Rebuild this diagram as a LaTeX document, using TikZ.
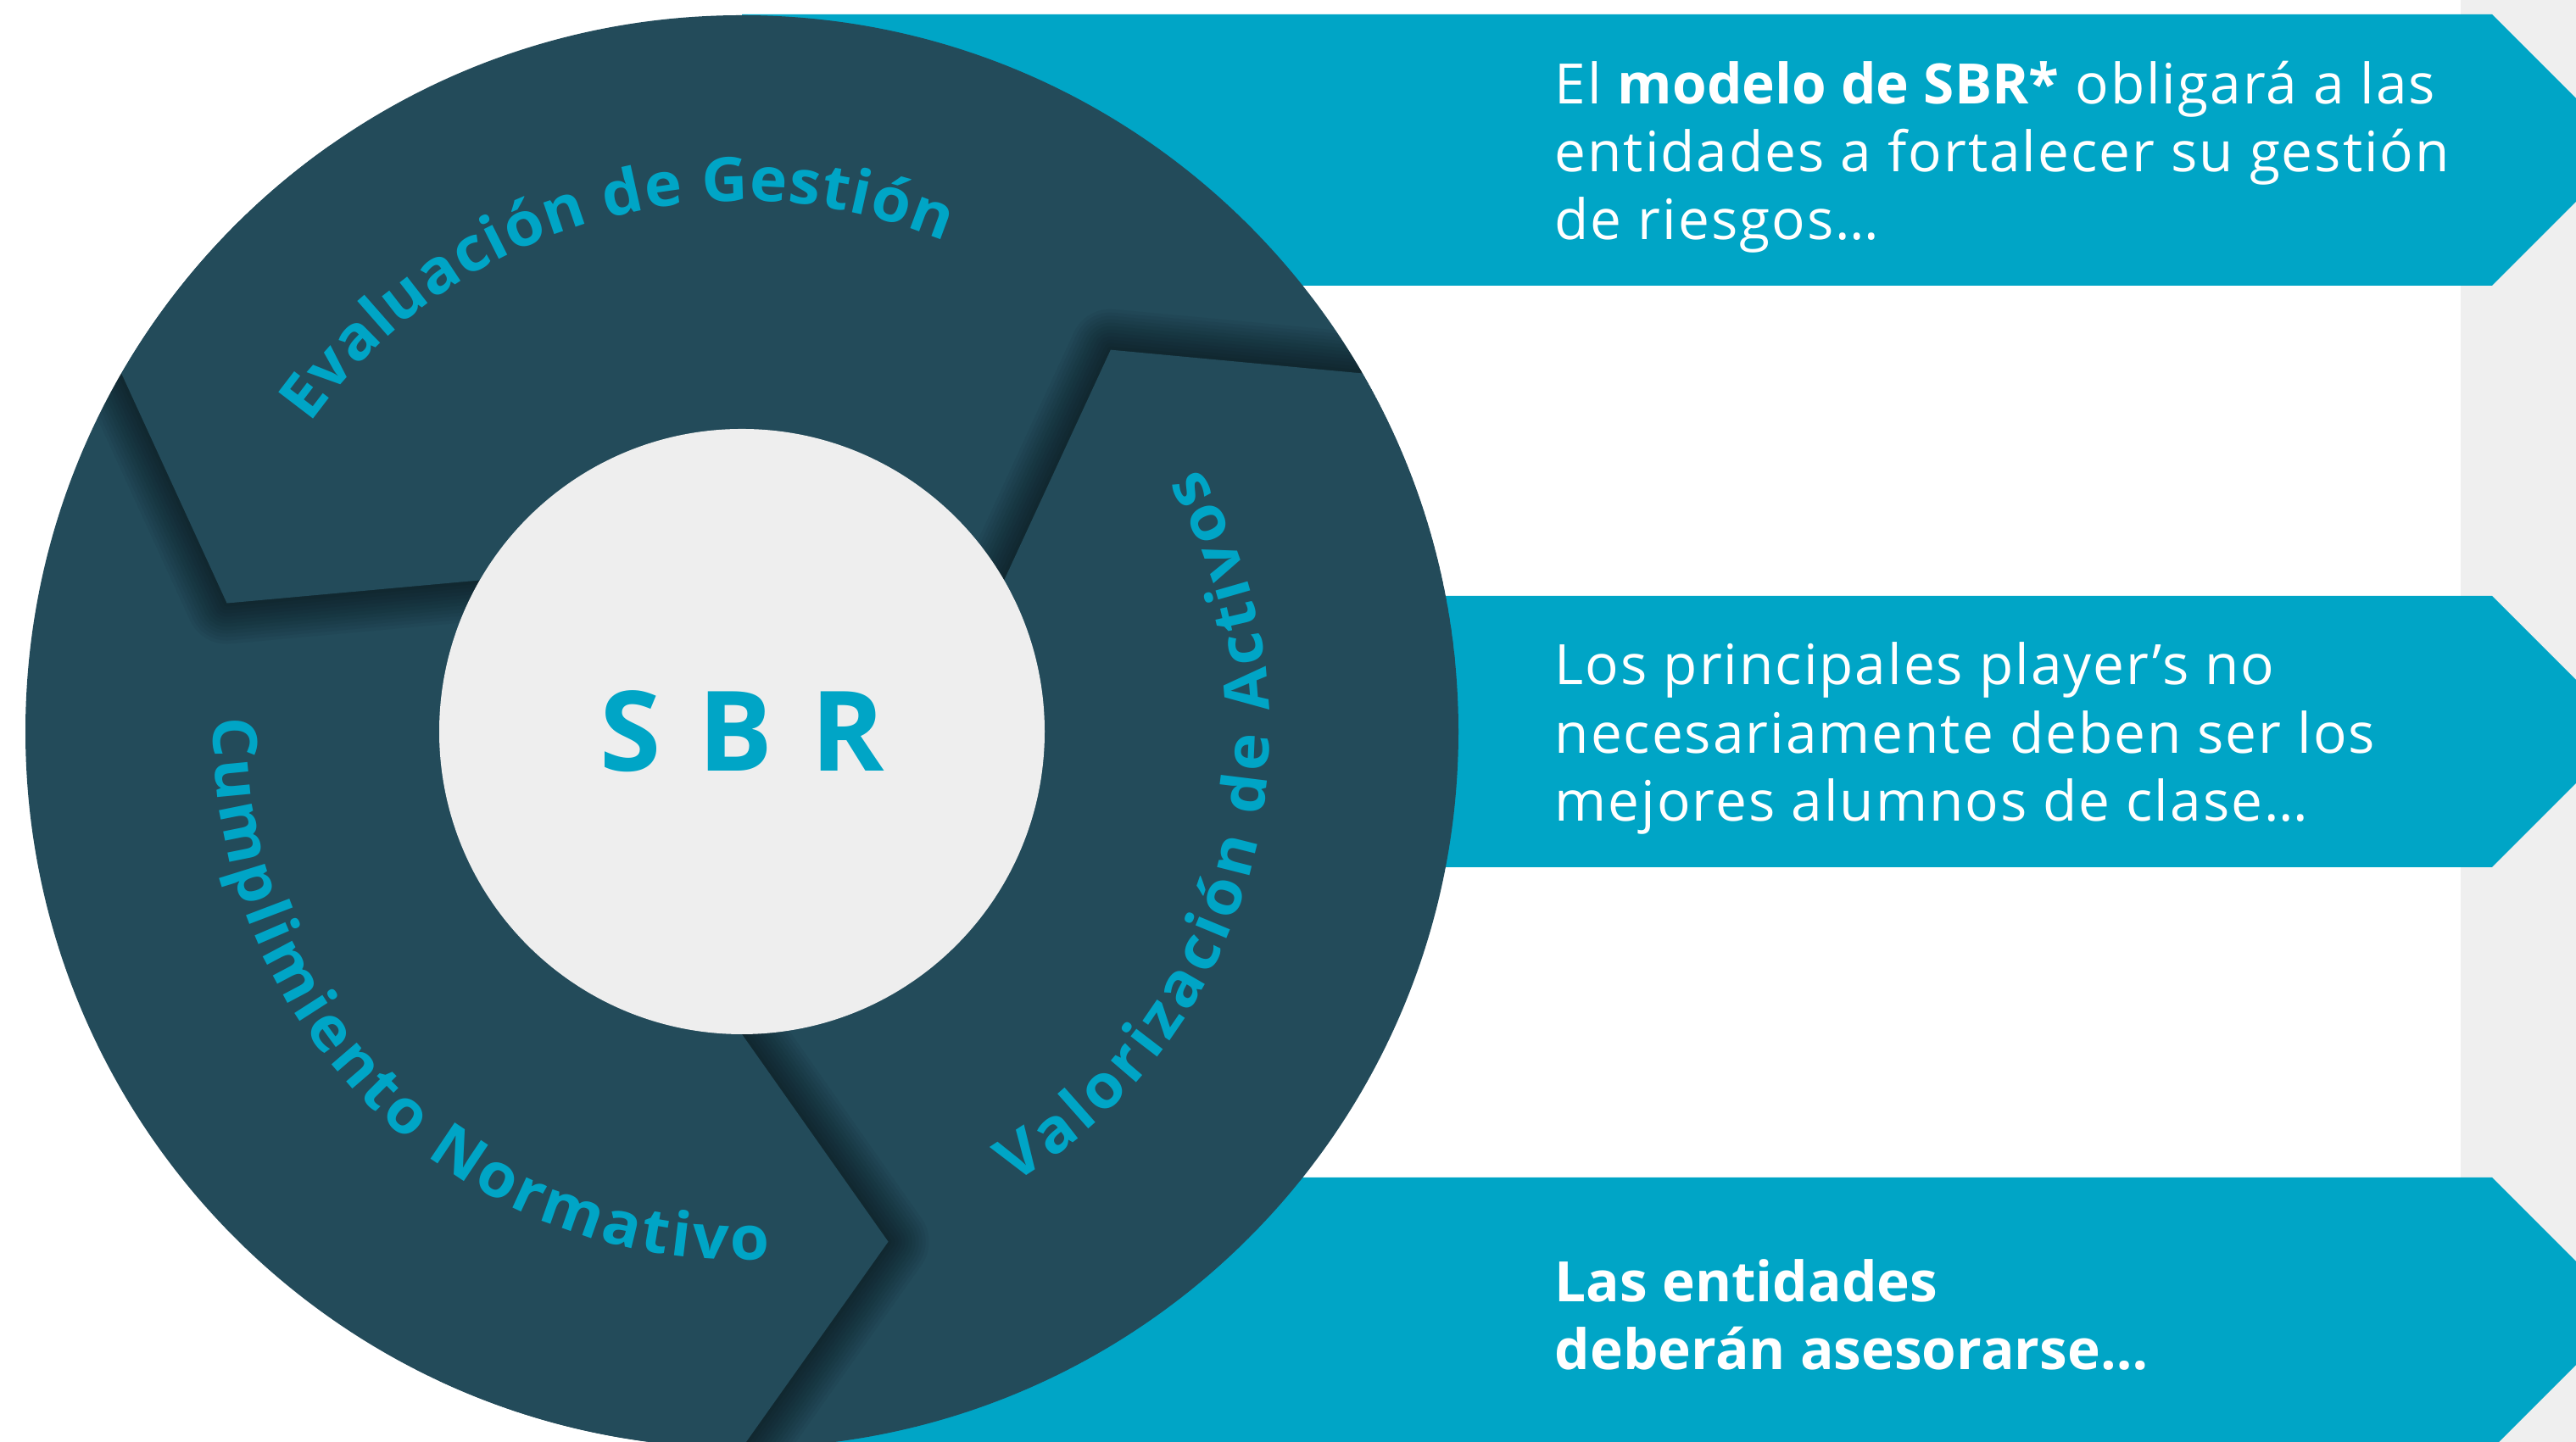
\documentclass[tikz,border=0pt]{standalone}
\usepackage{fontspec}
\setmainfont{Open Sans}
\newfontfamily\bannerfont{Open Sans}[LetterSpace=3]
\newfontfamily\ringfont{Open Sans}[FakeStretch=1.04]
\newfontfamily\boldfont{Open Sans}
\usetikzlibrary{decorations.text}

\definecolor{sbrdark}{RGB}{35,75,90}
\definecolor{sbrcyan}{RGB}{0,165,198}
\definecolor{sbrgrey}{RGB}{238,238,238}
\definecolor{stripgrey}{RGB}{239,239,239}

\begin{document}
\begin{tikzpicture}
    [
  banner/.style={
    fill=sbrcyan
  },
  ringtext/.style={
    decorate,
    decoration={
      text along path,
      text={|\ringfont\bfseries\fontsize{20.5}{21}\selectfont|#1},
      text color=sbrcyan,
      text align={fit to path}
    }
  },
  infotext/.style={
    anchor=west,
    align=left,
    text=white,
    inner sep=0pt,
    font=\bannerfont\fontsize{18.7}{22.8}\selectfont
  }
  ]
  \useasboundingbox (0,0) rectangle (30.38,17.01);
  \clip (0,0) rectangle (30.38,17.01);
  \fill[stripgrey] (29.02,0) rectangle (30.38,17.01);

  % banners
  \foreach \y in {15.24,8.38,1.52}
    \fill[banner] (8.75,\y+1.6) -- (29.39,\y+1.6) -- (30.99,\y)
      -- (29.39,\y-1.6) -- (8.75,\y-1.6) -- cycle;

  \begin{scope}[shift={(8.75,8.38)}]
    \fill[sbrdark] (0,0) circle (8.45);
    % folds
    \foreach \b in {150,30,-90} {
      \begin{scope}
        \clip (0,0) circle (8.45);
        \foreach \i in {1,...,12}
          \draw[line width=\i*0.08cm, black, opacity=0.045, line join=round]
            (\b:8.45) -- (\b+16:6.26) -- (\b:3.57);
        \fill[sbrdark] (\b-25:8.45) arc[start angle=\b-25, end angle=\b, radius=8.45]
          -- (\b+16:6.26) -- (\b:3.57)
          arc[start angle=\b, end angle=\b-25, radius=3.57] -- cycle;
      \end{scope}
    }
    \path[ringtext={Evaluación de Gestión}]
      (144.5:6.26) arc[start angle=144.5, end angle=67.5, radius=6.26];
    \path[ringtext={Valorización de Activos}]
      (-59:6.22) arc[start angle=-59, end angle=30, radius=6.22];
    \path[ringtext={Cumplimiento Normativo}]
      (178.5:6.23) arc[start angle=178.5, end angle=273, radius=6.23];

    \fill[sbrgrey] (0,0) circle (3.57);
    \node (sbr) at (0,0)
      [text=sbrcyan, font=\boldfont\bfseries\fontsize{37.3}{40}\selectfont\addfontfeature{LetterSpace=34}]
      {SBR};
  \end{scope}

  \node (info1) at (18.33,15.16) [infotext]
    {El {\boldfont\bfseries modelo de SBR*} obligará a las\\entidades a fortalecer su gestión\\de riesgos…};
  \node (info2) at (18.33,8.30) [infotext]
    {Los principales player’s no\\necesariamente deben ser los\\mejores alumnos de clase…};
  \node (info3) at (18.33,1.50) [infotext, font=\boldfont\bfseries\fontsize{18.7}{22.8}\selectfont]
    {Las entidades\\deberán asesorarse…};
\end{tikzpicture}
\end{document}
